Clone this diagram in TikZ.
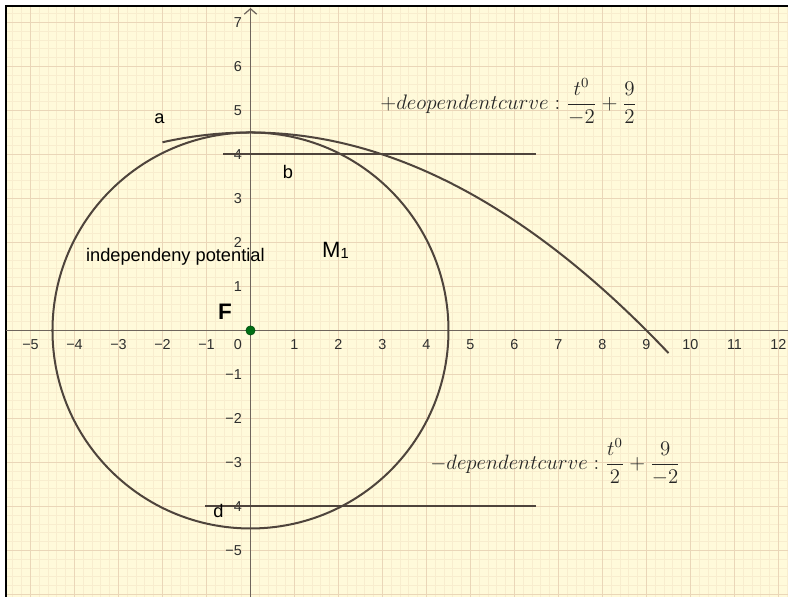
\documentclass[tikz,border=0pt]{standalone}
\usepackage{fontspec}
\setsansfont{Liberation Sans}
\usetikzlibrary{arrows.meta}
\definecolor{bgc}{RGB}{255,250,218}
\definecolor{majg}{RGB}{234,214,184}
\definecolor{ming}{RGB}{248,237,206}
\definecolor{axc}{RGB}{110,100,92}
\definecolor{crv}{RGB}{78,68,60}
\definecolor{ptg}{RGB}{0,110,20}
\tikzset{
  ticklbl/.style={font=\sffamily\fontsize{9.3}{10}\selectfont, text=black!82, inner sep=0pt, text height=6.66pt, text depth=0pt},
  lbl/.style={font=\sffamily\fontsize{11.8}{13}\selectfont, inner sep=0pt, anchor=base},
  curve/.style={crv, line width=1.3pt},
  axis/.style={axc, line width=0.8pt},
  formula/.style={font=\fontsize{12}{14}\selectfont, inner sep=0pt, anchor=west, text=black!85}
}
\begin{document}
\begin{tikzpicture}
\useasboundingbox (-5.693,-6.057) rectangle (12.216,7.511);
\fill[white] (-5.693,-6.057) rectangle (12.216,7.511);
\fill[bgc] (-5.557,-6.057) rectangle (12.216,7.375);
\begin{scope}
  \clip (-5.557,-6.057) rectangle (12.216,7.375);
  \draw[ming, line width=0.6pt, step=0.2] (-5.8,-6.2) grid (12.4,7.6);
  \draw[majg, line width=0.9pt, step=1] (-6,-7) grid (13,8);
\end{scope}
% frame (top and left)
\draw[black, line width=1.4pt] (-5.557,-6.1) -- (-5.557,7.375) -- (12.3,7.375);
% axes
\draw[axis] (-5.557,0) -- (12.216,0);
\draw[axis, -{Straight Barb[length=3.5pt,width=8pt]}] (0,-6.057) -- (0,7.33);
% tick labels
\foreach \k in {-5,-4,-3,-2,-1} \node[ticklbl] (xl\k) at (\k,-0.31) {−\the\numexpr-\k\relax};
\foreach \k in {1,...,12} \node[ticklbl] (xl\k) at (\k,-0.31) {\k};
\node[ticklbl, anchor=east] (xl0) at (-0.19,-0.31) {0};
\foreach \k in {1,...,7} \node[ticklbl, anchor=east] (yl\k) at (-0.19,\k) {\k};
\foreach \k in {-5,-4,-3,-2,-1} \node[ticklbl, anchor=east] (yl\k) at (-0.19,\k) {−\the\numexpr-\k\relax};
% circle and parabola
\draw[curve] (0,0) circle (4.5);
\draw[curve, domain=-2:9.5, samples=120, smooth] plot (\x,{4.5-\x*\x/18});
% horizontal segments
\coordinate (b1) at (-0.62,4);
\coordinate (b2) at (6.5,4);
\coordinate (d1) at (-1.03,-4);
\coordinate (d2) at (6.5,-4);
\draw[curve] (b1) -- (b2);
\draw[curve] (d1) -- (d2);
% point F
\fill[ptg, draw=ptg!70!black, line width=0.4pt] (0,0) circle (0.105);
\node[font=\sffamily\bfseries\fontsize{14.5}{16}\selectfont, inner sep=0pt, anchor=base west] (F) at (-0.745,0.239) {F};
% labels
\node[lbl] (la) at (-2.068,4.693) {a};
\node[lbl] (lb) at (0.852,3.443) {b};
\node[lbl] (ld) at (-0.727,-4.255) {d};
\node[lbl] (ip) at (-1.707,1.564) {independeny potential};
\node[font=\sffamily\fontsize{14.3}{16}\selectfont, inner sep=0pt, anchor=base west] (M) at (1.62,1.664) {M\raisebox{-1pt}{\fontsize{9.5}{10}\selectfont 1}};
\node[formula] (f1) at (2.943,5.193) {\scalebox{1.13}{$\displaystyle +deopendentcurve:\frac{t^0}{-2}+\frac{9}{2}$}};
\node[formula] (f2) at (4.08,-2.989) {\scalebox{1.12}{$\displaystyle -dependentcurve:\frac{t^0}{2}+\frac{9}{-2}$}};
\end{tikzpicture}
\end{document}
